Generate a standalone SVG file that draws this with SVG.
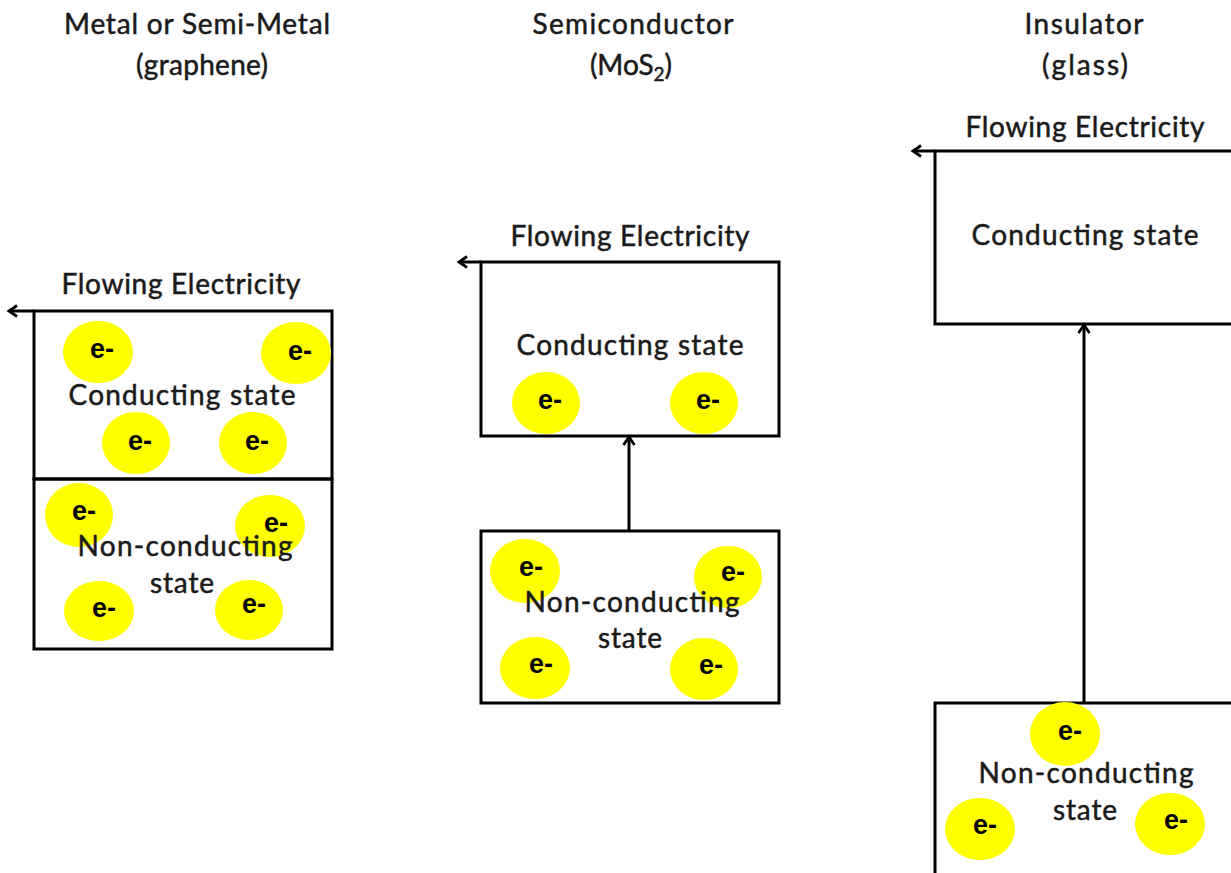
<svg xmlns="http://www.w3.org/2000/svg" width="1231" height="873" viewBox="0 0 1231 873">
<defs>
<marker id="arr" markerWidth="14" markerHeight="14" refX="11" refY="7" orient="auto" markerUnits="userSpaceOnUse">
<path d="M3,1.5 L11,7 L3,12.5" fill="none" stroke="#000" stroke-width="2.8"/>
</marker>
<style>
.lbl{font-family:Lato,"Open Sans","Liberation Sans",sans-serif;font-size:28px;fill:#1a1a1a;stroke:#1a1a1a;stroke-width:0.5;text-anchor:middle}
.box{fill:none;stroke:#000;stroke-width:3}
.el{fill:#ffff00}
.e{font-family:"Liberation Sans",Arial,sans-serif;font-weight:bold;font-size:27px;fill:#000;text-anchor:middle}
.con{fill:none;stroke:#000;stroke-width:3}
</style>
</defs>
<rect width="1231" height="873" fill="#fff"/>

<g id="titles">
<text class="lbl" x="197" y="34" textLength="266">Metal or Semi-Metal</text>
<text class="lbl" x="202" y="75" textLength="132">(graphene)</text>
<text class="lbl" x="633" y="34" textLength="201">Semiconductor</text>
<text class="lbl" x="631" y="75">(MoS<tspan font-size="19" dy="6">2</tspan><tspan dy="-6">)</tspan></text>
<text class="lbl" x="1084" y="34" textLength="119">Insulator</text>
<text class="lbl" x="1085" y="75" textLength="86">(glass)</text>
</g>

<g id="connectors">
<line class="con" x1="34" y1="311" x2="9" y2="311" marker-end="url(#arr)"/>
<line class="con" x1="481" y1="262" x2="459" y2="262" marker-end="url(#arr)"/>
<line class="con" x1="629" y1="531" x2="629" y2="437" marker-end="url(#arr)"/>
<line class="con" x1="935" y1="151" x2="913" y2="151" marker-end="url(#arr)"/>
<line class="con" x1="1084" y1="703" x2="1084" y2="325" marker-end="url(#arr)"/>
</g>

<g id="metal-conducting">
<text class="lbl" x="181" y="294" textLength="239">Flowing Electricity</text>
<rect class="box" x="34" y="311" width="298" height="168"/>
<ellipse class="el" cx="98" cy="352" rx="35" ry="31"/>
<ellipse class="el" cx="296" cy="353" rx="35" ry="31"/>
<ellipse class="el" cx="136" cy="443" rx="34" ry="31"/>
<ellipse class="el" cx="253" cy="443" rx="34" ry="31"/>
<text class="lbl" x="182" y="405" textLength="227">Conducting state</text>
<text class="e" x="102" y="358">e-</text>
<text class="e" x="300" y="360">e-</text>
<text class="e" x="140" y="450">e-</text>
<text class="e" x="257" y="450">e-</text>
</g>

<g id="metal-nonconducting">
<rect class="box" x="34" y="479" width="298" height="170"/>
<ellipse class="el" cx="79" cy="515" rx="34" ry="32"/>
<ellipse class="el" cx="270" cy="526" rx="35" ry="31"/>
<ellipse class="el" cx="99" cy="611" rx="35" ry="30"/>
<ellipse class="el" cx="249" cy="610" rx="34" ry="30"/>
<text class="e" x="84" y="520">e-</text>
<text class="e" x="276" y="532">e-</text>
<text class="e" x="104" y="617">e-</text>
<text class="e" x="254" y="613">e-</text>
<text class="lbl" x="185" y="556" textLength="215">Non-conducting</text>
<text class="lbl" x="182" y="593" textLength="64">state</text>
</g>

<g id="semi-conducting">
<text class="lbl" x="630" y="246" textLength="239">Flowing Electricity</text>
<rect class="box" x="481" y="262" width="298" height="174"/>
<ellipse class="el" cx="546" cy="403" rx="34" ry="31"/>
<ellipse class="el" cx="704" cy="403" rx="34" ry="31"/>
<text class="lbl" x="630" y="355" textLength="227">Conducting state</text>
<text class="e" x="550" y="409">e-</text>
<text class="e" x="708" y="409">e-</text>
</g>

<g id="semi-nonconducting">
<rect class="box" x="481" y="531" width="298" height="172"/>
<ellipse class="el" cx="525" cy="571" rx="35" ry="32"/>
<ellipse class="el" cx="728" cy="577" rx="34" ry="31"/>
<ellipse class="el" cx="535" cy="668" rx="35" ry="31"/>
<ellipse class="el" cx="704" cy="669" rx="34" ry="31"/>
<text class="e" x="531" y="576">e-</text>
<text class="e" x="733" y="581">e-</text>
<text class="e" x="541" y="673">e-</text>
<text class="e" x="711" y="674">e-</text>
<text class="lbl" x="632" y="612" textLength="215">Non-conducting</text>
<text class="lbl" x="630" y="648" textLength="64">state</text>
</g>

<g id="insulator-conducting">
<text class="lbl" x="1085" y="137" textLength="239">Flowing Electricity</text>
<rect class="box" x="935" y="151" width="310" height="173"/>
<text class="lbl" x="1085" y="245" textLength="227">Conducting state</text>
</g>

<g id="insulator-nonconducting">
<rect class="box" x="935" y="703" width="310" height="190"/>
<ellipse class="el" cx="1065" cy="734" rx="35" ry="32"/>
<ellipse class="el" cx="980" cy="829" rx="35" ry="31"/>
<ellipse class="el" cx="1170" cy="824" rx="35" ry="31"/>
<text class="e" x="1070" y="740">e-</text>
<text class="e" x="985" y="834">e-</text>
<text class="e" x="1176" y="829">e-</text>
<text class="lbl" x="1086" y="783" textLength="215">Non-conducting</text>
<text class="lbl" x="1085" y="820" textLength="64">state</text>
</g>
</svg>
